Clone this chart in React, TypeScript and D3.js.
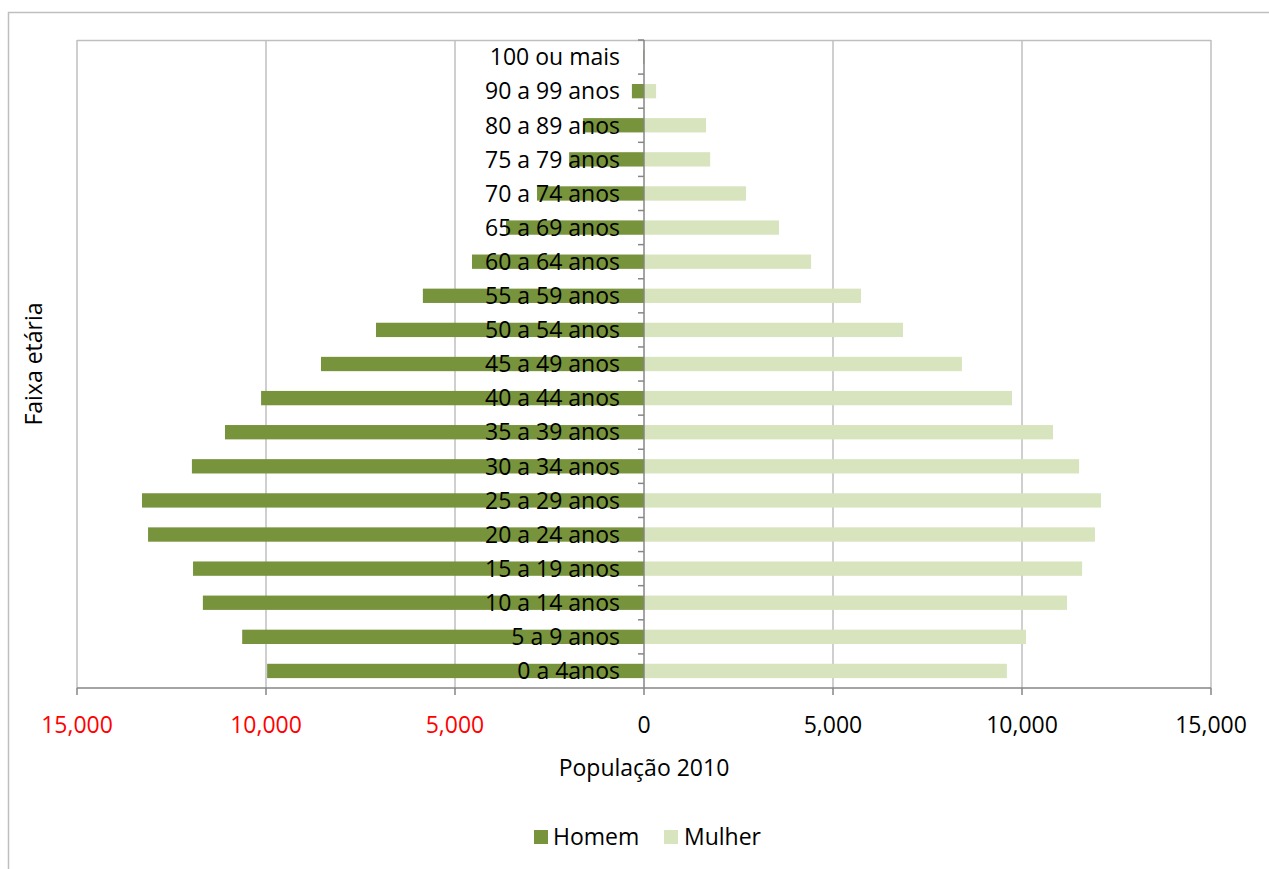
import React from "react";
import * as d3 from "d3";

const categories = [
  "0 a 4anos", "5 a 9 anos", "10 a 14 anos", "15 a 19 anos", "20 a 24 anos",
  "25 a 29 anos", "30 a 34 anos", "35 a 39 anos", "40 a 44 anos", "45 a 49 anos",
  "50 a 54 anos", "55 a 59 anos", "60 a 64 anos", "65 a 69 anos", "70 a 74 anos",
  "75 a 79 anos", "80 a 89 anos", "90 a 99 anos", "100 ou mais",
];
const homem = [9970, 10630, 11670, 11930, 13120, 13280, 11960, 11085, 10130, 8545, 7090, 5850, 4550, 3650, 2830, 1980, 1610, 320, 15];
const mulher = [9600, 10105, 11190, 11590, 11930, 12090, 11510, 10820, 9735, 8410, 6850, 5740, 4420, 3570, 2700, 1750, 1640, 320, 20];
const xTicks = [-15000, -10000, -5000, 0, 5000, 10000, 15000];
const seriesNames = ["Homem", "Mulher"];

const W = 1269, H = 869;
const FONT = "'Open Sans', 'Noto Sans', sans-serif";
const C_H = "#77933C", C_M = "#D7E4BD";
const FS = 23;

export default function App() {
  const left = 77, right = 1211, top = 40, bottom = 688;
  const x = d3.scaleLinear().domain([-15000, 15000]).range([left, right]);
  const y = d3.scaleBand().domain(categories.slice().reverse()).range([top, bottom]).paddingInner(0.58).paddingOuter(0.29);
  const band = d3.scaleBand().domain(categories.slice().reverse()).range([top, bottom]);
  const fmt = d3.format(",");
  const x0 = x(0);
  return (
    <svg width={W} height={H} style={{ position: "absolute", left: 0, top: 0, background: "#fff" }} fontFamily={FONT}>
      <rect x={8.5} y={12.5} width={W + 10} height={H + 10} fill="#fff" stroke="#bfbfbf" strokeWidth={1.5} />
      {/* gridlines */}
      {xTicks.filter(t => t !== 0).map(t => (
        <line key={t} x1={x(t)} x2={x(t)} y1={top} y2={bottom} stroke="#bfbfbf" strokeWidth={1.5} />
      ))}
      <line x1={left} x2={right} y1={top + 0.5} y2={top + 0.5} stroke="#bfbfbf" strokeWidth={1.5} />
      {/* bars */}
      {categories.map((c, i) => (
        <g key={c}>
          <rect x={x(-homem[i])} y={y(c)} width={x0 - x(-homem[i])} height={y.bandwidth()} fill={C_H} />
          <rect x={x0} y={y(c)} width={x(mulher[i]) - x0} height={y.bandwidth()} fill={C_M} />
        </g>
      ))}
      {/* x axis */}
      <line x1={left} x2={right} y1={bottom} y2={bottom} stroke="#868686" strokeWidth={1.5} />
      {xTicks.map(t => (
        <g key={t}>
          <line x1={x(t)} x2={x(t)} y1={bottom} y2={bottom + 7} stroke="#868686" strokeWidth={1.5} />
          <text x={x(t)} y={733} textAnchor="middle" fontSize={FS} fill={t < 0 ? "#ff0000" : "#000"}>
            {fmt(Math.abs(t))}
          </text>
        </g>
      ))}
      {/* center axis */}
      <line x1={x0} x2={x0} y1={top} y2={bottom} stroke="#868686" strokeWidth={1.5} />
      {band.domain().map(c => (
        <line key={c} x1={x0 - 6} x2={x0} y1={band(c)} y2={band(c)} stroke="#868686" strokeWidth={1.5} />
      ))}
      {categories.map(c => (
        <text key={c} x={620} y={(band(c) as number) + band.bandwidth() / 2} dy="0.36em" textAnchor="end" fontSize={FS} fill="#000">
          {c}
        </text>
      ))}
      {/* titles */}
      <text x={x0} y={776} textAnchor="middle" fontSize={FS} fill="#000">População 2010</text>
      <text transform={`translate(42,${(top + bottom) / 2}) rotate(-90)`} textAnchor="middle" fontSize={FS} fill="#000">Faixa etária</text>
      {/* legend */}
      <rect x={534} y={830} width={14} height={14} fill={C_H} />
      <text x={553} y={845} fontSize={FS} fill="#000">{seriesNames[0]}</text>
      <rect x={664} y={830} width={14} height={14} fill={C_M} />
      <text x={684} y={845} fontSize={FS} fill="#000">{seriesNames[1]}</text>
    </svg>
  );
}
